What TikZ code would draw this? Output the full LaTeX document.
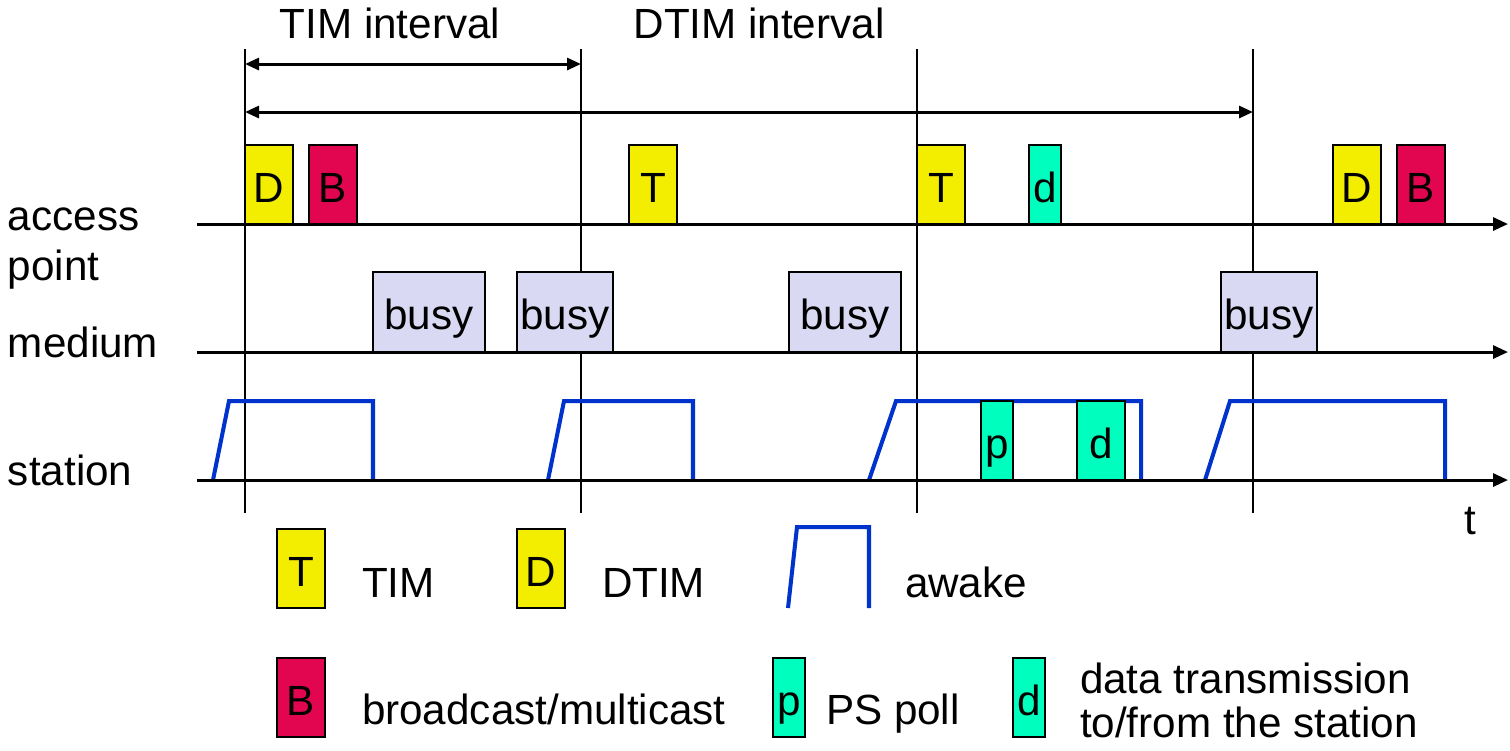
\documentclass[tikz,border=0pt]{standalone}
\usepackage{fontspec}
\setmainfont{Liberation Sans}
\usetikzlibrary{arrows.meta}
\definecolor{timyellow}{RGB}{243,238,0}
\definecolor{bred}{RGB}{226,6,80}
\definecolor{pgreen}{RGB}{0,255,191}
\definecolor{busyc}{RGB}{217,217,243}
\definecolor{awakeblue}{RGB}{0,51,204}
\begin{document}
\begin{tikzpicture}[x=0.01cm,y=-0.01cm,
  font=\fontsize{12}{14}\selectfont,
  every node/.style={inner sep=0pt, outer sep=0pt},
  pkt/.style={draw=black, line width=0.6pt, anchor=south west,
    minimum width=0.48cm, minimum height=0.79cm,
    text height=0.45cm, text depth=0.10cm},
  narrow/.style={minimum width=0.32cm},
  timbox/.style={pkt, fill=timyellow},
  bbox/.style={pkt, fill=bred},
  gbox/.style={pkt, fill=pgreen},
  busybox/.style={pkt, fill=busyc, minimum height=0.80cm},
  axis/.style={line width=0.85pt, -{Triangle[length=0.15cm,width=0.13cm]}},
  iv/.style={line width=0.85pt, {Triangle[length=0.14cm,width=0.12cm]}-{Triangle[length=0.14cm,width=0.12cm]}},
  vline/.style={line width=0.6pt},
  awake/.style={draw=awakeblue, line width=1.15pt, line join=miter},
  lbl/.style={anchor=base west},
]
\useasboundingbox (0,0) rectangle (1510,750);

% vertical markers
\foreach \x/\n in {245/1,581/2,917/3,1253/4}{
  \coordinate (v\n t) at (\x,49);
  \coordinate (v\n b) at (\x,513);
  \draw[vline] (v\n t) -- (v\n b);
}

% interval arrows
\coordinate (tiA) at (245,64);
\coordinate (tiB) at (581,64);
\coordinate (dtA) at (245,112);
\coordinate (dtB) at (1253,112);
\draw[iv] (tiA) -- (tiB);
\draw[iv] (dtA) -- (dtB);
\node[anchor=base] (timint) at (390,38) {TIM interval};
\node[anchor=base] (dtimint) at (759,38) {DTIM interval};

% row labels
\node[lbl] (ap1) at (8,230) {access};
\node[lbl] (ap2) at (8,280) {point};
\node[lbl] (med) at (8,357) {medium};
\node[lbl] (sta) at (8,485) {station};

% access point packets
\node[timbox] (apD1) at (245,224) {D};
\node[bbox]   (apB1) at (309,224) {B};
\node[timbox] (apT1) at (629,224) {T};
\node[timbox] (apT2) at (917,224) {T};
\node[gbox,narrow] (apd) at (1029,224) {d};
\node[timbox] (apD2) at (1333,224) {D};
\node[bbox]   (apB2) at (1397,224) {B};

% medium busy
\node[busybox, minimum width=1.12cm] (bu1) at (373,352) {busy};
\node[busybox, minimum width=0.96cm] (bu2) at (517,352) {busy};
\node[busybox, minimum width=1.12cm] (bu3) at (789,352) {busy};
\node[busybox, minimum width=0.96cm] (bu4) at (1221,352) {busy};

% station awake periods
\draw[awake] (213,480) -- (229,401) -- (373,401) -- (373,480);
\draw[awake] (548,480) -- (564,401) -- (693,401) -- (693,480);
\draw[awake] (869,480) -- (896,401) -- (1141,401) -- (1141,480);
\draw[awake] (1205,480) -- (1230,401) -- (1445,401) -- (1445,480);
\node[gbox,narrow] (stp) at (981,480) {p};
\node[gbox] (std) at (1077,480) {d};

% axes
\coordinate (apL) at (197,224);  \coordinate (apR) at (1508,224);
\coordinate (meL) at (197,352);  \coordinate (meR) at (1508,352);
\coordinate (stL) at (197,480);  \coordinate (stR) at (1508,480);
\draw[axis] (apL) -- (apR);
\draw[axis] (meL) -- (meR);
\draw[axis] (stL) -- (stR);
\node[anchor=base] (tlab) at (1470,534) {t};

% legend
\node[timbox] (lgT) at (277,608) {T};
\node[lbl] (lgTt) at (362,597) {TIM};
\node[timbox] (lgD) at (517,608) {D};
\node[lbl] (lgDt) at (602,597) {DTIM};
\draw[awake] (788,608) -- (797,527) -- (869,527) -- (869,608);
\node[lbl] (lgAt) at (905,597) {awake};
\node[bbox] (lgB) at (277,737) {B};
\node[lbl] (lgBt) at (362,724) {broadcast/multicast};
\node[gbox,narrow] (lgP) at (773,737) {p};
\node[lbl] (lgPt) at (826,724) {PS poll};
\node[gbox,narrow] (lgd) at (1013,737) {d};
\node[lbl] (lgdt1) at (1080,693) {data transmission};
\node[lbl] (lgdt2) at (1080,737) {to/from the station};
\end{tikzpicture}
\end{document}
